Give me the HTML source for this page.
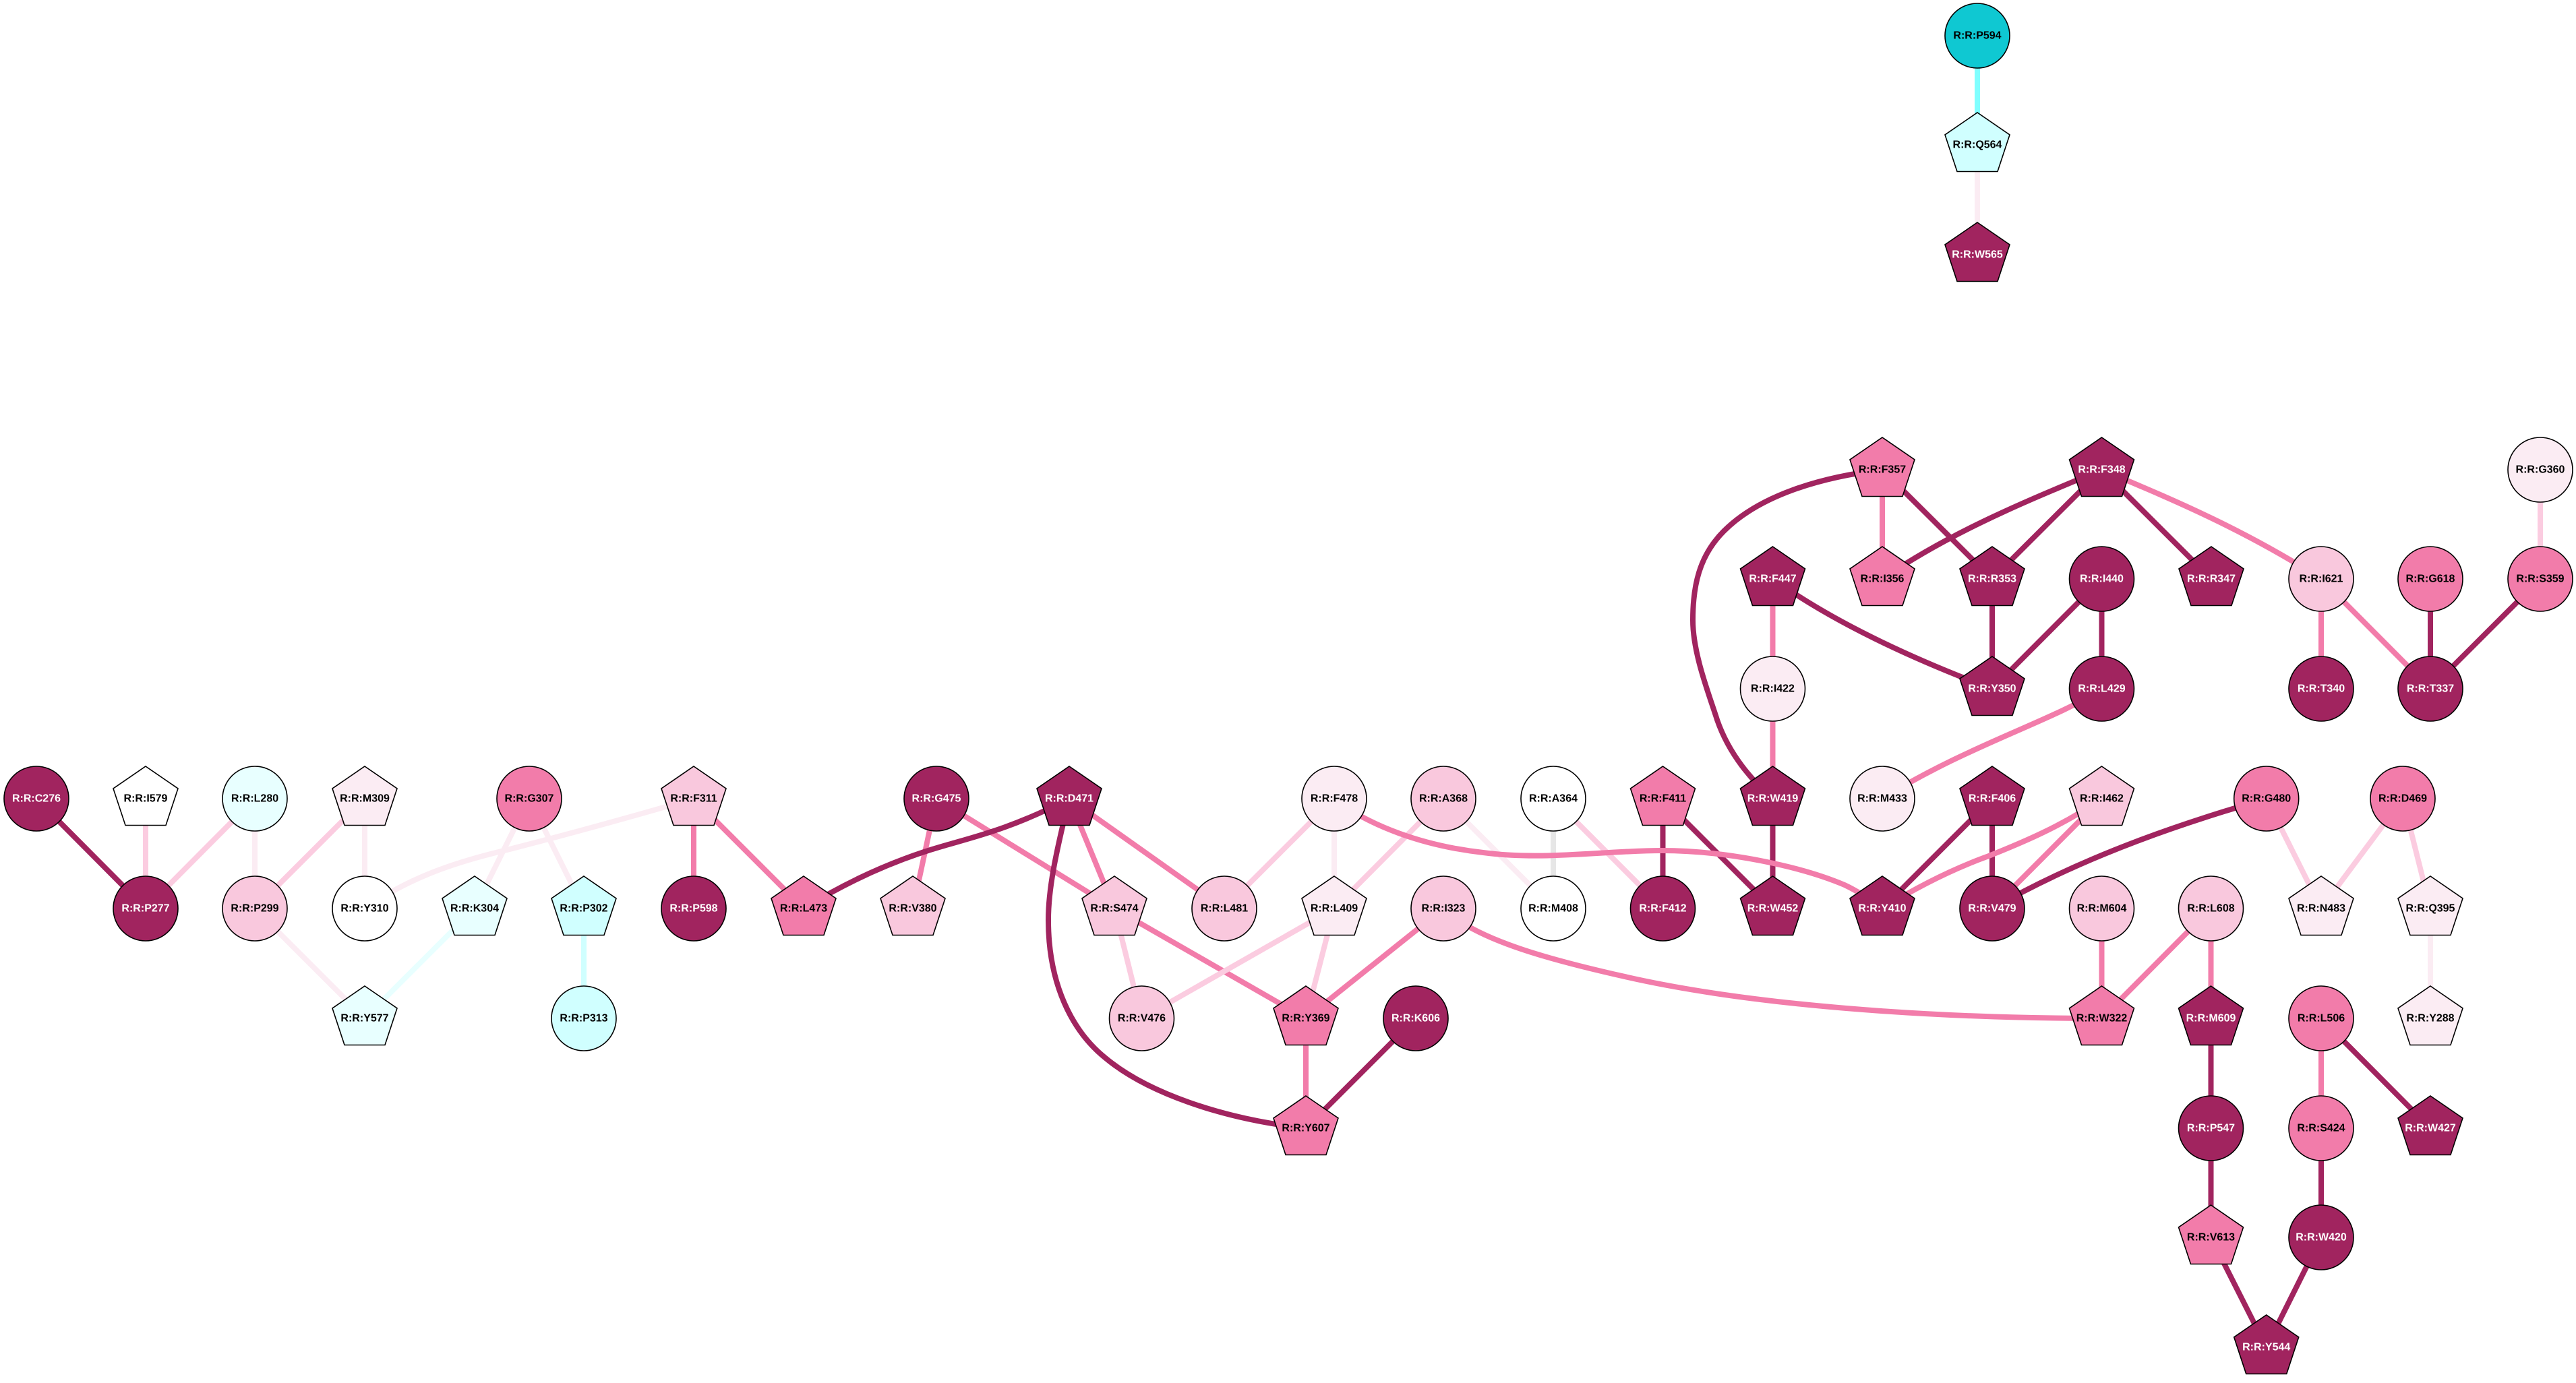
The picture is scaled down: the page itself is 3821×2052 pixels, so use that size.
<!DOCTYPE html>
<html><head><meta charset="utf-8"><style>
html,body{margin:0;padding:0;background:#fff}
svg{display:block}
text{font-family:"Liberation Sans",Arial,sans-serif;font-weight:bold;font-size:16px;text-anchor:middle;text-rendering:geometricPrecision;transform:translateY(.4px)}
.e path,.e line{fill:none;stroke-width:8}
.n circle,.n use{stroke:#000;stroke-width:1.6}
.d{stroke:#A1245F}.m{stroke:#F27CAA}.l{stroke:#FBCCE0}.x{stroke:#FBECF3}.c1{stroke:#E8FFFF}.c2{stroke:#D0FFFF}.c3{stroke:#80FFFF}.g{stroke:#E6E6E6}
.fd{fill:#A1245F}.fm{fill:#F27CAA}.fl{fill:#F9C8DD}.fx{fill:#FBECF3}.fw{fill:#fff}.f1{fill:#E8FFFF}.f2{fill:#D0FFFF}.ft{fill:#0FC8D2}
.w{fill:#fff}.b{fill:#000}
</style></head><body>
<svg xmlns="http://www.w3.org/2000/svg" width="3821" height="2052" viewBox="0 0 3821 2052">
<defs><polygon id="p" points="0,-48 48,-15 30,39.5 -30,39.5 -48,-15"/></defs>
<rect width="3821" height="2052" fill="#fff"/>
<g class="e">
<line class="d" x1="54" y1="1185" x2="216" y2="1348"/>
<line class="l" x1="216" y1="1185" x2="216" y2="1348"/>
<line class="l" x1="378" y1="1185" x2="216" y2="1348"/>
<line class="x" x1="378" y1="1185" x2="378" y2="1348"/>
<line class="l" x1="541" y1="1185" x2="378" y2="1348"/>
<line class="x" x1="541" y1="1185" x2="541" y2="1348"/>
<line class="x" x1="378" y1="1348" x2="541" y2="1511"/>
<line class="c1" x1="704" y1="1348" x2="541" y2="1511"/>
<line class="x" x1="785" y1="1185" x2="704" y2="1348"/>
<line class="x" x1="785" y1="1185" x2="866" y2="1348"/>
<line class="c2" x1="866" y1="1348" x2="866" y2="1511"/>
<path class="x" d="M1029 1185C950 1208 850 1236 752 1261C680 1278 610 1300 541 1348"/>
<line class="m" x1="1029" y1="1185" x2="1029" y2="1348"/>
<line class="m" x1="1029" y1="1185" x2="1192" y2="1348"/>
<line class="m" x1="1389" y1="1185" x2="1354" y2="1348"/>
<line class="m" x1="1389" y1="1185" x2="1653" y2="1348"/>
<path class="d" d="M1586 1185C1500 1230 1440 1243 1400 1255C1340 1272 1270 1300 1192 1348"/>
<line class="m" x1="1586" y1="1185" x2="1653" y2="1348"/>
<line class="m" x1="1586" y1="1185" x2="1816" y2="1348"/>
<path class="d" d="M1586 1185C1565 1270 1555 1320 1555 1365C1555 1460 1590 1530 1640 1570C1700 1620 1810 1660 1937 1674"/>
<line class="l" x1="1653" y1="1348" x2="1693.500" y2="1511"/>
<line class="m" x1="1653" y1="1348" x2="1937" y2="1511"/>
<line class="l" x1="1979" y1="1185" x2="1816" y2="1348"/>
<line class="x" x1="1979" y1="1185" x2="1979" y2="1348"/>
<line class="l" x1="2141" y1="1185" x2="1979" y2="1348"/>
<line class="l" x1="1979" y1="1348" x2="1693.500" y2="1511"/>
<line class="l" x1="1979" y1="1348" x2="1937" y2="1511"/>
<line class="m" x1="2141" y1="1348" x2="1937" y2="1511"/>
<line class="m" x1="1937" y1="1511" x2="1937" y2="1674"/>
<line class="d" x1="2100" y1="1511" x2="1937" y2="1674"/>
<line class="x" x1="2141" y1="1185" x2="2304" y2="1348"/>
<line class="g" x1="2304" y1="1185" x2="2304" y2="1348"/>
<line class="l" x1="2304" y1="1185" x2="2466.500" y2="1348"/>
<line class="d" x1="2466.500" y1="1185" x2="2466.500" y2="1348"/>
<line class="d" x1="2466.500" y1="1185" x2="2629.500" y2="1348"/>
<line class="d" x1="2629.500" y1="1185" x2="2629.500" y2="1348"/>
<path class="m" d="M1979 1185C2030 1225 2110 1255 2200 1265C2290 1277 2380 1262 2465 1262C2560 1262 2670 1285 2736 1313C2755 1322 2775 1335 2792 1348"/>
<path class="m" d="M2141 1348C2190 1395 2300 1425 2428 1453C2600 1490 2850 1511 3117.500 1511"/>
<line class="d" x1="2955" y1="1185" x2="2792" y2="1348"/>
<line class="d" x1="2955" y1="1185" x2="2955" y2="1348"/>
<path class="m" d="M3117.500 1185C3060 1225 3000 1250 2950 1270C2900 1288 2850 1312 2792 1348"/>
<line class="m" x1="3117.500" y1="1185" x2="2955" y2="1348"/>
<path class="d" d="M3361.700 1185C3250 1218 3100 1265 2955 1348"/>
<path class="d" d="M2792 697C2700 708 2610 735 2557 788C2520 825 2511 870 2511 920C2511 970 2535 1030 2547 1068C2565 1120 2600 1160 2630 1185"/>
<path class="d" d="M2630 859C2715 920 2830 975 2955 1022"/>
<line class="m" x1="2629.500" y1="859" x2="2629.500" y2="1022"/>
<line class="m" x1="2629.500" y1="1022" x2="2629.500" y2="1185"/>
<line class="m" x1="2792" y1="697" x2="2792" y2="859"/>
<line class="d" x1="2792" y1="697" x2="2955" y2="859"/>
<path class="d" d="M3117.500 697C3020 738 2900 785 2792 859"/>
<line class="d" x1="3117.500" y1="697" x2="2955" y2="859"/>
<line class="d" x1="3117.500" y1="697" x2="3280" y2="859"/>
<path class="m" d="M3117.500 697C3200 732 3320 780 3443 859"/>
<line class="d" x1="2955" y1="859" x2="2955" y2="1022"/>
<line class="d" x1="3117.500" y1="859" x2="2955" y2="1022"/>
<line class="d" x1="3117.500" y1="859" x2="3117.500" y2="1022"/>
<path class="m" d="M3117.500 1022C3050 1068 2920 1105 2792 1185"/>
<line class="m" x1="3443" y1="859" x2="3443" y2="1022"/>
<line class="m" x1="3443" y1="859" x2="3605" y2="1022"/>
<line class="d" x1="3605" y1="859" x2="3605" y2="1022"/>
<line class="d" x1="3768" y1="859" x2="3605" y2="1022"/>
<line class="l" x1="3768" y1="697" x2="3768" y2="859"/>
<line class="c3" x1="2933" y1="53" x2="2933" y2="215"/>
<line class="x" x1="2933" y1="215" x2="2933" y2="378"/>
<line class="m" x1="3117.500" y1="1348" x2="3117.500" y2="1511"/>
<line class="m" x1="3279.500" y1="1348" x2="3117.500" y2="1511"/>
<line class="m" x1="3279.500" y1="1348" x2="3279.500" y2="1511"/>
<line class="d" x1="3279.500" y1="1511" x2="3279.500" y2="1674"/>
<line class="d" x1="3279.500" y1="1674" x2="3279.500" y2="1836"/>
<line class="d" x1="3279.500" y1="1836" x2="3361.700" y2="1999"/>
<line class="d" x1="3443" y1="1836" x2="3361.700" y2="1999"/>
<line class="d" x1="3443" y1="1674" x2="3443" y2="1836"/>
<line class="m" x1="3443" y1="1511" x2="3443" y2="1674"/>
<line class="d" x1="3443" y1="1511" x2="3605" y2="1674"/>
<line class="l" x1="3361.700" y1="1185" x2="3443" y2="1348"/>
<line class="l" x1="3564" y1="1185" x2="3443" y2="1348"/>
<line class="l" x1="3564" y1="1185" x2="3605" y2="1348"/>
<line class="x" x1="3605" y1="1348" x2="3605" y2="1511"/>
</g>
<g class="n">
<circle cx="54" cy="1185" r="48" class="fd"/><text x="54" y="1189" class="w">R:R:C276</text>
<use href="#p" x="216" y="1185" class="fw"/><text x="216" y="1189" class="b">R:R:I579</text>
<circle cx="378" cy="1185" r="48" class="f1"/><text x="378" y="1189" class="b">R:R:L280</text>
<use href="#p" x="541" y="1185" class="fx"/><text x="541" y="1189" class="b">R:R:M309</text>
<circle cx="785" cy="1185" r="48" class="fm"/><text x="785" y="1189" class="b">R:R:G307</text>
<use href="#p" x="1029" y="1185" class="fl"/><text x="1029" y="1189" class="b">R:R:F311</text>
<circle cx="1389" cy="1185" r="48" class="fd"/><text x="1389" y="1189" class="w">R:R:G475</text>
<use href="#p" x="1586" y="1185" class="fd"/><text x="1586" y="1189" class="w">R:R:D471</text>
<circle cx="1979" cy="1185" r="48" class="fx"/><text x="1979" y="1189" class="b">R:R:F478</text>
<circle cx="2141" cy="1185" r="48" class="fl"/><text x="2141" y="1189" class="b">R:R:A368</text>
<circle cx="2304" cy="1185" r="48" class="fw"/><text x="2304" y="1189" class="b">R:R:A364</text>
<use href="#p" x="2466.500" y="1185" class="fm"/><text x="2466.500" y="1189" class="b">R:R:F411</text>
<use href="#p" x="2629.500" y="1185" class="fd"/><text x="2629.500" y="1189" class="w">R:R:W419</text>
<circle cx="2792" cy="1185" r="48" class="fx"/><text x="2792" y="1189" class="b">R:R:M433</text>
<use href="#p" x="2955" y="1185" class="fd"/><text x="2955" y="1189" class="w">R:R:F406</text>
<use href="#p" x="3117.500" y="1185" class="fl"/><text x="3117.500" y="1189" class="b">R:R:I462</text>
<circle cx="3361.700" cy="1185" r="48" class="fm"/><text x="3361.700" y="1189" class="b">R:R:G480</text>
<circle cx="3564" cy="1185" r="48" class="fm"/><text x="3564" y="1189" class="b">R:R:D469</text>
<circle cx="216" cy="1348" r="48" class="fd"/><text x="216" y="1352" class="w">R:R:P277</text>
<circle cx="378" cy="1348" r="48" class="fl"/><text x="378" y="1352" class="b">R:R:P299</text>
<circle cx="541" cy="1348" r="48" class="fw"/><text x="541" y="1352" class="b">R:R:Y310</text>
<use href="#p" x="704" y="1348" class="f1"/><text x="704" y="1352" class="b">R:R:K304</text>
<use href="#p" x="866" y="1348" class="f2"/><text x="866" y="1352" class="b">R:R:P302</text>
<circle cx="1029" cy="1348" r="48" class="fd"/><text x="1029" y="1352" class="w">R:R:P598</text>
<use href="#p" x="1192" y="1348" class="fm"/><text x="1192" y="1352" class="b">R:R:L473</text>
<use href="#p" x="1354" y="1348" class="fl"/><text x="1354" y="1352" class="b">R:R:V380</text>
<use href="#p" x="1653" y="1348" class="fl"/><text x="1653" y="1352" class="b">R:R:S474</text>
<circle cx="1816" cy="1348" r="48" class="fl"/><text x="1816" y="1352" class="b">R:R:L481</text>
<use href="#p" x="1979" y="1348" class="fx"/><text x="1979" y="1352" class="b">R:R:L409</text>
<circle cx="2141" cy="1348" r="48" class="fl"/><text x="2141" y="1352" class="b">R:R:I323</text>
<circle cx="2304" cy="1348" r="48" class="fw"/><text x="2304" y="1352" class="b">R:R:M408</text>
<circle cx="2466.500" cy="1348" r="48" class="fd"/><text x="2466.500" y="1352" class="w">R:R:F412</text>
<use href="#p" x="2629.500" y="1348" class="fd"/><text x="2629.500" y="1352" class="w">R:R:W452</text>
<use href="#p" x="2792" y="1348" class="fd"/><text x="2792" y="1352" class="w">R:R:Y410</text>
<circle cx="2955" cy="1348" r="48" class="fd"/><text x="2955" y="1352" class="w">R:R:V479</text>
<circle cx="3117.500" cy="1348" r="48" class="fl"/><text x="3117.500" y="1352" class="b">R:R:M604</text>
<circle cx="3279.500" cy="1348" r="48" class="fl"/><text x="3279.500" y="1352" class="b">R:R:L608</text>
<use href="#p" x="3443" y="1348" class="fx"/><text x="3443" y="1352" class="b">R:R:N483</text>
<use href="#p" x="3605" y="1348" class="fx"/><text x="3605" y="1352" class="b">R:R:Q395</text>
<use href="#p" x="541" y="1511" class="f1"/><text x="541" y="1515" class="b">R:R:Y577</text>
<circle cx="866" cy="1511" r="48" class="f2"/><text x="866" y="1515" class="b">R:R:P313</text>
<circle cx="1693.500" cy="1511" r="48" class="fl"/><text x="1693.500" y="1515" class="b">R:R:V476</text>
<use href="#p" x="1937" y="1511" class="fm"/><text x="1937" y="1515" class="b">R:R:Y369</text>
<circle cx="2100" cy="1511" r="48" class="fd"/><text x="2100" y="1515" class="w">R:R:K606</text>
<use href="#p" x="3117.500" y="1511" class="fm"/><text x="3117.500" y="1515" class="b">R:R:W322</text>
<use href="#p" x="3279.500" y="1511" class="fd"/><text x="3279.500" y="1515" class="w">R:R:M609</text>
<circle cx="3443" cy="1511" r="48" class="fm"/><text x="3443" y="1515" class="b">R:R:L506</text>
<use href="#p" x="3605" y="1511" class="fx"/><text x="3605" y="1515" class="b">R:R:Y288</text>
<use href="#p" x="1937" y="1674" class="fm"/><text x="1937" y="1678" class="b">R:R:Y607</text>
<circle cx="3279.500" cy="1674" r="48" class="fd"/><text x="3279.500" y="1678" class="w">R:R:P547</text>
<circle cx="3443" cy="1674" r="48" class="fm"/><text x="3443" y="1678" class="b">R:R:S424</text>
<use href="#p" x="3605" y="1674" class="fd"/><text x="3605" y="1678" class="w">R:R:W427</text>
<use href="#p" x="3279.500" y="1836" class="fm"/><text x="3279.500" y="1840" class="b">R:R:V613</text>
<circle cx="3443" cy="1836" r="48" class="fd"/><text x="3443" y="1840" class="w">R:R:W420</text>
<use href="#p" x="3361.700" y="1999" class="fd"/><text x="3361.700" y="2003" class="w">R:R:Y544</text>
<circle cx="2933" cy="53" r="48" class="ft"/><text x="2933" y="57" class="b">R:R:P594</text>
<use href="#p" x="2933" y="215" class="f2"/><text x="2933" y="219" class="b">R:R:Q564</text>
<use href="#p" x="2933" y="378" class="fd"/><text x="2933" y="382" class="w">R:R:W565</text>
<use href="#p" x="2792" y="697" class="fm"/><text x="2792" y="701" class="b">R:R:F357</text>
<use href="#p" x="3117.500" y="697" class="fd"/><text x="3117.500" y="701" class="w">R:R:F348</text>
<circle cx="3768" cy="697" r="48" class="fx"/><text x="3768" y="701" class="b">R:R:G360</text>
<use href="#p" x="2629.500" y="859" class="fd"/><text x="2629.500" y="863" class="w">R:R:F447</text>
<use href="#p" x="2792" y="859" class="fm"/><text x="2792" y="863" class="b">R:R:I356</text>
<use href="#p" x="2955" y="859" class="fd"/><text x="2955" y="863" class="w">R:R:R353</text>
<circle cx="3117.500" cy="859" r="48" class="fd"/><text x="3117.500" y="863" class="w">R:R:I440</text>
<use href="#p" x="3280" y="859" class="fd"/><text x="3280" y="863" class="w">R:R:R347</text>
<circle cx="3443" cy="859" r="48" class="fl"/><text x="3443" y="863" class="b">R:R:I621</text>
<circle cx="3605" cy="859" r="48" class="fm"/><text x="3605" y="863" class="b">R:R:G618</text>
<circle cx="3768" cy="859" r="48" class="fm"/><text x="3768" y="863" class="b">R:R:S359</text>
<circle cx="2629.500" cy="1022" r="48" class="fx"/><text x="2629.500" y="1026" class="b">R:R:I422</text>
<use href="#p" x="2955" y="1022" class="fd"/><text x="2955" y="1026" class="w">R:R:Y350</text>
<circle cx="3117.500" cy="1022" r="48" class="fd"/><text x="3117.500" y="1026" class="w">R:R:L429</text>
<circle cx="3443" cy="1022" r="48" class="fd"/><text x="3443" y="1026" class="w">R:R:T340</text>
<circle cx="3605" cy="1022" r="48" class="fd"/><text x="3605" y="1026" class="w">R:R:T337</text>
</g>
</svg>
</body></html>
